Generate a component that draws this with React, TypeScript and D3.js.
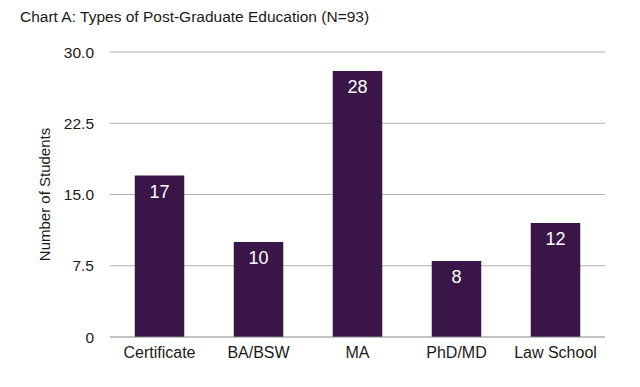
import React from "react";
import * as d3 from "d3";

const categories = ["Certificate", "BA/BSW", "MA", "PhD/MD", "Law School"];
const values = [17, 10, 28, 8, 12];
const tickValues = [0, 7.5, 15, 22.5, 30];
const tickLabels = ["0", "7.5", "15.0", "22.5", "30.0"];

export default function App() {
  const W = 640, H = 387;
  const left = 110, right = 605, top = 52, bottom = 337;
  const x = d3.scaleBand<string>().domain(categories).range([left, right]).paddingInner(0.5).paddingOuter(0.25);
  const y = d3.scaleLinear().domain([0, 30]).range([bottom, top]);
  const font = "'Liberation Sans', Arial, Helvetica, sans-serif";
  return (
    <svg width={W} height={H} style={{ position: "absolute", left: 0, top: 0, background: "#fff" }} fontFamily={font}>
      <text x={20} y={22} fontSize={15.5} fill="#1a1a1a">Chart A: Types of Post-Graduate Education (N=93)</text>
      {tickValues.map((t, i) => (
        <g key={i}>
          {i > 0 && <line x1={left} x2={right} y1={y(t)} y2={y(t)} stroke="#b0b0b0" strokeWidth={1} />}
          <text x={94} y={y(t) + 5.5} textAnchor="end" fontSize={15.5} fill="#1a1a1a">{tickLabels[i]}</text>
        </g>
      ))}
      <text transform={`translate(50,${(top + bottom) / 2}) rotate(-90)`} textAnchor="middle" fontSize={15} fill="#1a1a1a">Number of Students</text>
      {categories.map((c, i) => (
        <g key={c}>
          <rect x={x(c)} y={y(values[i])} width={x.bandwidth()} height={bottom - y(values[i])} fill="#3a1548" />
          <text x={x(c)! + x.bandwidth() / 2} y={y(values[i]) + 22} textAnchor="middle" fontSize={18} fill="#fff">{values[i]}</text>
          <text x={x(c)! + x.bandwidth() / 2} y={358} textAnchor="middle" fontSize={16} fill="#1a1a1a">{c}</text>
        </g>
      ))}
      <line x1={left} x2={right} y1={bottom} y2={bottom} stroke="#888" strokeWidth={1.2} />
    </svg>
  );
}
